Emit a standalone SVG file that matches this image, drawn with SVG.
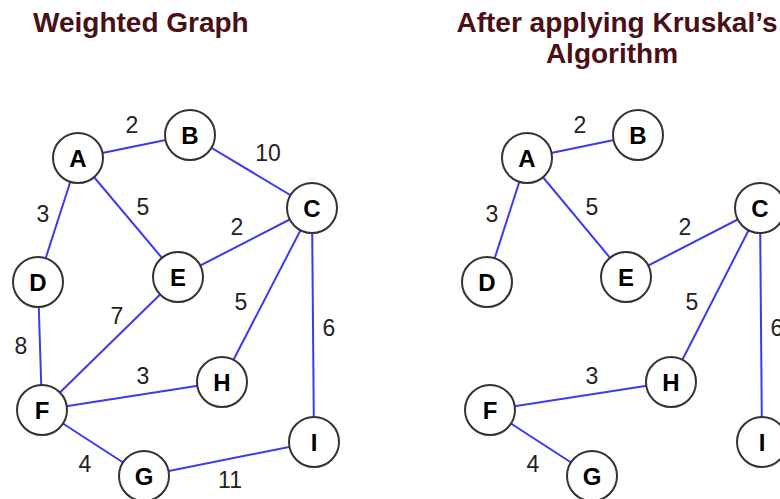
<svg xmlns="http://www.w3.org/2000/svg" width="780" height="499" viewBox="0 0 780 499">
<style>
.title{font-family:"Liberation Sans",Arial,sans-serif;font-weight:bold;font-size:28px;fill:#4a1015}
.edge{stroke:#3a3af0;stroke-width:2;fill:none}
.node circle{fill:#fff;stroke:#333;stroke-width:2}
.node text{font-family:"Liberation Sans",Arial,sans-serif;font-weight:bold;font-size:24px;fill:#000;text-anchor:middle}
.w{font-family:"Liberation Sans",Arial,sans-serif;font-size:23px;fill:#222;text-anchor:middle}
</style>
<rect width="780" height="499" fill="#fff"/>
<text class="title" x="33" y="32">Weighted Graph</text>
<text class="title" x="617" y="32" text-anchor="middle">After applying Kruskal’s</text>
<text class="title" x="612" y="63" text-anchor="middle">Algorithm</text>

<g id="connectors">
<line class="edge" x1="78" y1="158" x2="190" y2="135"/>
<line class="edge" x1="190" y1="135" x2="312" y2="208"/>
<line class="edge" x1="78" y1="158" x2="38" y2="282"/>
<line class="edge" x1="78" y1="158" x2="178" y2="277"/>
<line class="edge" x1="178" y1="277" x2="312" y2="208"/>
<line class="edge" x1="312" y1="208" x2="222" y2="382"/>
<line class="edge" x1="312" y1="208" x2="314" y2="442"/>
<line class="edge" x1="38" y1="282" x2="42" y2="410"/>
<line class="edge" x1="42" y1="410" x2="178" y2="277"/>
<line class="edge" x1="42" y1="410" x2="222" y2="382"/>
<line class="edge" x1="42" y1="410" x2="144" y2="476"/>
<line class="edge" x1="144" y1="476" x2="314" y2="442"/>

<line class="edge" x1="527" y1="158" x2="638" y2="135"/>
<line class="edge" x1="527" y1="158" x2="487" y2="282"/>
<line class="edge" x1="527" y1="158" x2="626" y2="277"/>
<line class="edge" x1="626" y1="277" x2="760" y2="208"/>
<line class="edge" x1="760" y1="208" x2="671" y2="382"/>
<line class="edge" x1="760" y1="208" x2="762" y2="442"/>
<line class="edge" x1="490" y1="410" x2="671" y2="382"/>
<line class="edge" x1="490" y1="410" x2="592" y2="476"/>
</g>

<g id="weights">
<text class="w" x="132" y="133">2</text>
<text class="w" x="268" y="161">10</text>
<text class="w" x="143" y="215">5</text>
<text class="w" x="43" y="222">3</text>
<text class="w" x="237" y="235">2</text>
<text class="w" x="117" y="324">7</text>
<text class="w" x="21" y="354">8</text>
<text class="w" x="241" y="310">5</text>
<text class="w" x="329" y="336">6</text>
<text class="w" x="143" y="384">3</text>
<text class="w" x="85" y="472">4</text>
<text class="w" x="230" y="488">11</text>

<text class="w" x="580" y="133">2</text>
<text class="w" x="592" y="215">5</text>
<text class="w" x="492" y="222">3</text>
<text class="w" x="685" y="235">2</text>
<text class="w" x="692" y="310">5</text>
<text class="w" x="777" y="336">6</text>
<text class="w" x="592" y="384">3</text>
<text class="w" x="533" y="472">4</text>
</g>

<g id="L_A" class="node"><circle cx="78" cy="158" r="25"/><text x="78" y="167">A</text></g>
<g id="L_B" class="node"><circle cx="190" cy="135" r="25"/><text x="190" y="144">B</text></g>
<g id="L_C" class="node"><circle cx="312" cy="208" r="25"/><text x="312" y="217">C</text></g>
<g id="L_D" class="node"><circle cx="38" cy="282" r="25"/><text x="38" y="291">D</text></g>
<g id="L_E" class="node"><circle cx="178" cy="277" r="25"/><text x="178" y="286">E</text></g>
<g id="L_F" class="node"><circle cx="42" cy="410" r="25"/><text x="42" y="419">F</text></g>
<g id="L_G" class="node"><circle cx="144" cy="476" r="25"/><text x="144" y="485">G</text></g>
<g id="L_H" class="node"><circle cx="222" cy="382" r="25"/><text x="222" y="391">H</text></g>
<g id="L_I" class="node"><circle cx="314" cy="442" r="25"/><text x="314" y="451">I</text></g>

<g id="R_A" class="node"><circle cx="527" cy="158" r="25"/><text x="527" y="167">A</text></g>
<g id="R_B" class="node"><circle cx="638" cy="135" r="25"/><text x="638" y="144">B</text></g>
<g id="R_C" class="node"><circle cx="760" cy="208" r="25"/><text x="760" y="217">C</text></g>
<g id="R_D" class="node"><circle cx="487" cy="282" r="25"/><text x="487" y="291">D</text></g>
<g id="R_E" class="node"><circle cx="626" cy="277" r="25"/><text x="626" y="286">E</text></g>
<g id="R_F" class="node"><circle cx="490" cy="410" r="25"/><text x="490" y="419">F</text></g>
<g id="R_G" class="node"><circle cx="592" cy="476" r="25"/><text x="592" y="485">G</text></g>
<g id="R_H" class="node"><circle cx="671" cy="382" r="25"/><text x="671" y="391">H</text></g>
<g id="R_I" class="node"><circle cx="762" cy="442" r="25"/><text x="762" y="451">I</text></g>
</svg>
